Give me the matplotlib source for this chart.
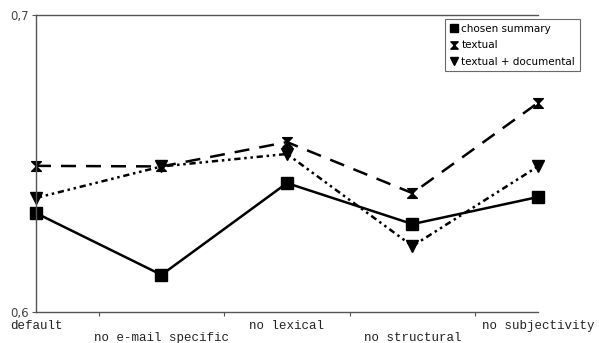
import numpy as np
import matplotlib.pyplot as plt
from matplotlib.path import Path

categories = ['default', 'no e-mail specific', 'no lexical',
              'no structural', 'no subjectivity']
chosen_summary = [0.6333, 0.6125, 0.6434, 0.6296, 0.6387]
textual = [0.6492, 0.6490, 0.6572, 0.6400, 0.6704]
textual_documental = [0.6384, 0.6490, 0.6532, 0.6222, 0.6490]
y_ticks = [0.6, 0.7]
y_tick_labels = ['0,6', '0,7']

# hourglass marker for "textual"
hourglass = Path([(-1, 1), (1, 1), (-1, -1), (1, -1), (-1, 1)],
                 [Path.MOVETO, Path.LINETO, Path.LINETO, Path.LINETO, Path.CLOSEPOLY])


def main():
    fig = plt.figure(figsize=(5.99, 3.43), dpi=100)
    ax = fig.add_axes([0.0601, 0.0904, 0.838, 0.866])
    x = np.arange(len(categories))

    ax.plot(x, chosen_summary, color='black', lw=1.8, ls='-',
            marker='s', ms=8, label='chosen summary', clip_on=False)
    ax.plot(x, textual, color='black', lw=1.8, ls=(0, (6, 4)),
            marker=hourglass, ms=7, label='textual', clip_on=False)
    ax.plot(x, textual_documental, color='black', lw=1.8,
            ls=(0, (2.5, 1.5, 1, 1.5, 1, 1.5)),
            marker='v', ms=8, label='textual + documental', clip_on=False)

    ax.set_xlim(0, len(categories) - 1)
    ax.set_ylim(0.6, 0.7)
    ax.set_yticks(y_ticks)
    ax.set_yticklabels(y_tick_labels, fontsize=8.5, color='#444444')

    # category labels in two staggered rows, ticks between categories
    ax.set_xticks(x[:-1] + 0.5)
    ax.set_xticklabels([])
    ax.tick_params(axis='x', direction='out', length=3, color='#555555')
    ax.tick_params(axis='y', direction='out', length=3, color='#555555', pad=2)
    for i, name in enumerate(categories):
        ax.annotate(name, xy=(i, 0.6), xycoords='data',
                    xytext=(0, -10 if i % 2 == 0 else -18.5), textcoords='offset points',
                    ha='center', va='center', fontsize=9,
                    family='Liberation Mono', color='#222222', annotation_clip=False)

    ax.spines['right'].set_visible(False)
    for s in ['left', 'top', 'bottom']:
        ax.spines[s].set_color('#555555')
        ax.spines[s].set_linewidth(1.0)

    leg = ax.legend(loc='upper left', bbox_to_anchor=(0.815, 0.985),
                    fontsize=7.5, frameon=True, fancybox=False, markerscale=0.75,
                    handlelength=0.8, handletextpad=0.3, borderpad=0.45,
                    labelspacing=0.6, borderaxespad=0)
    leg.get_frame().set_edgecolor('#444444')
    leg.get_frame().set_linewidth(0.8)
    for h in leg.legend_handles:
        h.set_linestyle('none')

    fig.savefig('out.png', dpi=100)


if __name__ == '__main__':
    main()
